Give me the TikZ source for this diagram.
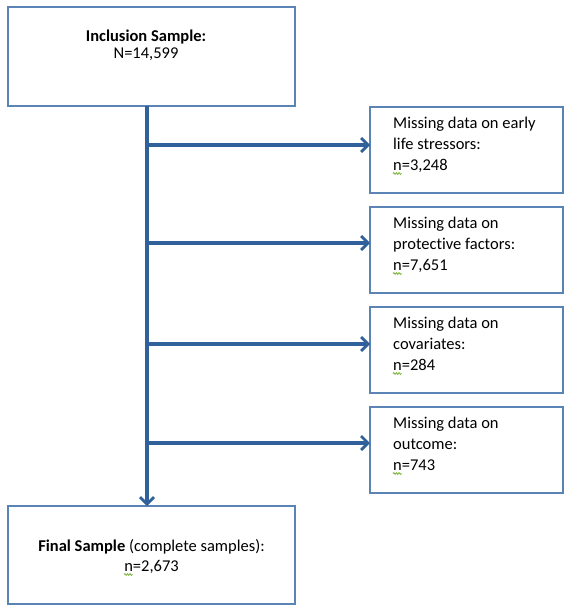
\documentclass[tikz,border=0pt]{standalone}
\usepackage{fontspec}
\setmainfont{Carlito}[Ligatures={NoCommon}]
\usetikzlibrary{arrows.meta,decorations.pathmorphing}
\definecolor{boxblue}{HTML}{5A84B5}
\definecolor{arrowblue}{HTML}{30619A}
\definecolor{squig}{HTML}{7FB33A}
\begin{document}
\begin{tikzpicture}[x=1pt,y=-1pt,
  box/.style={draw=boxblue,line width=1.4pt,fill=white,anchor=north west,inner sep=0pt,outer sep=0pt},
  sidebox/.style={box,minimum width=193pt,minimum height=86pt},
  mainbox/.style={box,minimum width=287pt,minimum height=99pt},
  sidetext/.style={anchor=base west,inner sep=0pt,align=left,font=\fontsize{16.5}{21}\selectfont},
  flow/.style={draw=arrowblue,line width=3.2pt,-{Straight Barb[length=7pt,width=14pt,line width=2.8pt]}},
  spell/.style={draw=squig,line width=0.8pt,decorate,decoration={snake,amplitude=0.9pt,segment length=2.6pt}}]
\useasboundingbox (0,0) rectangle (564,605);
% boxes
\node[mainbox] (top) at (8,7) {};
\node[mainbox,minimum height=98pt] (bot) at (8,506) {};
\node[sidebox] (m1) at (370,107) {};
\node[sidebox] (m2) at (370,207) {};
\node[sidebox] (m3) at (370,307) {};
\node[sidebox] (m4) at (370,407) {};
% texts
\node[anchor=base,inner sep=0pt,font=\fontsize{16.5}{17}\selectfont] (toptxt1) at (146,41) {\textbf{Inclusion Sample:}};
\node[anchor=base,inner sep=0pt,font=\fontsize{16.5}{17}\selectfont] (toptxt2) at (146,58) {N=14,599};
\node[anchor=base,inner sep=0pt,font=\fontsize{16.5}{20}\selectfont] (bottxt1) at (151.5,551) {\textbf{Final Sample} (complete samples):};
\node[anchor=base,inner sep=0pt,font=\fontsize{16.5}{20}\selectfont] (bottxt2) at (151.5,571) {n=2,673};
\node[sidetext] (t1a) at (393,128) {Missing data on early};
\node[sidetext] (t1b) at (393,149) {life stressors:};
\node[sidetext] (t1c) at (393,170) {n=3,248};
\node[sidetext] (t2a) at (393,228) {Missing data on};
\node[sidetext] (t2b) at (393,249) {protective factors:};
\node[sidetext] (t2c) at (393,270) {n=7,651};
\node[sidetext] (t3a) at (393,328) {Missing data on};
\node[sidetext] (t3b) at (393,349) {covariates:};
\node[sidetext] (t3c) at (393,370) {n=284};
\node[sidetext] (t4a) at (393,428) {Missing data on};
\node[sidetext] (t4b) at (393,449) {outcome:};
\node[sidetext] (t4c) at (393,470) {n=743};
% spell-check squiggles
\draw[spell] ([yshift=-3.5pt]t1c.base west) -- ++(8.5,0);
\draw[spell] ([yshift=-3.5pt]t2c.base west) -- ++(8.5,0);
\draw[spell] ([yshift=-3.5pt]t3c.base west) -- ++(8.5,0);
\draw[spell] ([yshift=-3.5pt]t4c.base west) -- ++(8.5,0);
\draw[spell] ([yshift=-3.5pt]bottxt2.base west) -- ++(8.5,0);
% connectors
\coordinate (j1) at (147,145);
\coordinate (j2) at (147,243);
\coordinate (j3) at (147,344);
\coordinate (j4) at (147,443);
\draw[flow] (top.south -| j1) -- (bot.north -| j1);
\draw[flow] (j1) -- (m1.west |- j1);
\draw[flow] (j2) -- (m2.west |- j2);
\draw[flow] (j3) -- (m3.west |- j3);
\draw[flow] (j4) -- (m4.west |- j4);
\end{tikzpicture}
\end{document}
